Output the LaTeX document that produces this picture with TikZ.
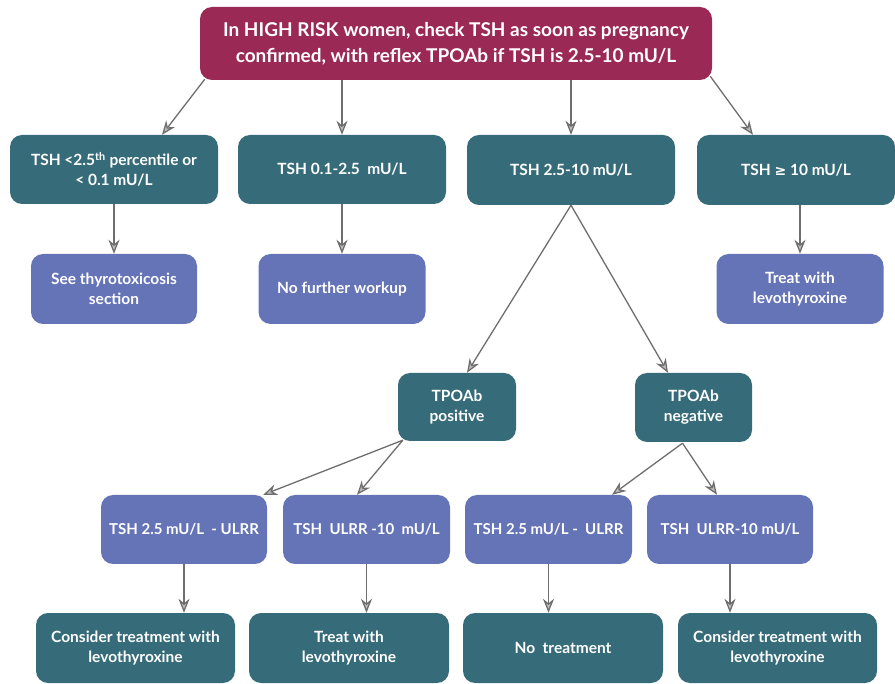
\documentclass[tikz,border=0pt]{standalone}
\usepackage{fontspec}
\setmainfont{Lato}
\newfontfamily\symfont{DejaVu Sans}
\usetikzlibrary{arrows.meta,calc}
\definecolor{crim}{HTML}{9B2955}
\definecolor{teal}{HTML}{366B79}
\definecolor{lav}{HTML}{6573B7}
\definecolor{arr}{HTML}{6E6E6E}
\tikzset{
  box/.style={rounded corners=12pt, text=white, align=center, inner sep=2pt,
    font=\fontsize{15.5}{20}\selectfont\bfseries},
  tealbox/.style={box, fill=teal},
  lavbox/.style={box, fill=lav},
  conn/.style={draw=arr, line width=1.3pt, -{Stealth[length=14pt,width=11pt,fill=arr!45]}}
}
\begin{document}
\begin{tikzpicture}[x=1pt,y=-1pt]
\useasboundingbox (0,0) rectangle (895,684);
\node[box, fill=crim, minimum width=512pt, minimum height=73pt,
  font=\fontsize{19}{26}\selectfont\bfseries] (top) at (456,43.5)
  {In HIGH RISK women, check TSH as soon as pregnancy\\confirmed, with reflex TPOAb if TSH is 2.5-10 mU/L};
% row 1
\node[tealbox, minimum width=208pt, minimum height=69pt] (a) at (114,169.5) {TSH <2.5\textsuperscript{th} percentile or\\< 0.1 mU/L};
\node[tealbox, minimum width=208pt, minimum height=69pt] (b) at (342,169.5) {TSH 0.1-2.5 \ mU/L};
\node[tealbox, minimum width=208pt, minimum height=70pt] (c) at (571,170) {TSH 2.5-10 mU/L};
\node[tealbox, minimum width=198pt, minimum height=70pt] (d) at (796,170) {TSH {\symfont\fontsize{14}{20}\selectfont ≥} 10 mU/L};
% row 2
\node[lavbox, minimum width=166pt, minimum height=70pt] (a2) at (114,289) {See thyrotoxicosis\\section};
\node[lavbox, minimum width=167pt, minimum height=70pt] (b2) at (342,289) {No further workup};
\node[lavbox, minimum width=167pt, minimum height=70pt] (d2) at (800,289) {Treat with\\levothyroxine};
% TPOAb
\node[tealbox, minimum width=118pt, minimum height=68pt] (p) at (457,407) {TPOAb\\positive};
\node[tealbox, minimum width=117pt, minimum height=69pt] (n) at (693.5,407.5) {TPOAb\\negative};
% row 4
\node[lavbox, minimum width=166pt, minimum height=69pt, font=\fontsize{15}{20}\selectfont\bfseries] (e1) at (184,529.5) {TSH 2.5 mU/L \ - ULRR};
\node[lavbox, minimum width=167pt, minimum height=69pt, font=\fontsize{15}{20}\selectfont\bfseries] (e2) at (366.5,529.5) {TSH \ ULRR -10 \ mU/L};
\node[lavbox, minimum width=167pt, minimum height=69pt, font=\fontsize{15}{20}\selectfont\bfseries] (e3) at (548.5,529.5) {TSH 2.5 mU/L - \ ULRR};
\node[lavbox, minimum width=166pt, minimum height=69pt, font=\fontsize{15}{20}\selectfont\bfseries] (e4) at (730,529.5) {TSH \ ULRR-10 mU/L};
% row 5
\node[tealbox, minimum width=199pt, minimum height=70pt] (f1) at (135.5,648) {Consider treatment with\\levothyroxine};
\node[tealbox, minimum width=200pt, minimum height=70pt] (f2) at (349,648) {Treat with\\levothyroxine};
\node[tealbox, minimum width=200pt, minimum height=70pt] (f3) at (563,648) {No \ treatment};
\node[tealbox, minimum width=199pt, minimum height=70pt] (f4) at (777.5,648) {Consider treatment with\\levothyroxine};
% connectors
\draw[conn] ([xshift=5pt,yshift=1pt]top.south west) -- ([xshift=48pt]a.north);
\draw[conn] (top.south -| b.north) -- (b.north);
\draw[conn] (top.south -| c.north) -- (c.north);
\draw[conn] ([xshift=-2pt,yshift=4pt]top.south east) -- ([xshift=-43pt]d.north);
\draw[conn] (a.south) -- (a2.north);
\draw[conn] (b.south) -- (b2.north);
\draw[conn] (d.south -| d2.north) -- (d2.north);
\draw[conn] (c.south) -- ([xshift=10pt]p.north);
\draw[conn] (c.south) -- ([xshift=-25.5pt]n.north);
\draw[conn] ([xshift=5pt,yshift=1pt]p.south west) -- ([xshift=-4pt]e1.north east);
\draw[conn] ([xshift=5pt,yshift=1pt]p.south west) -- ([xshift=-9.5pt]e2.north);
\draw[conn] ([xshift=-11pt,yshift=-1pt]n.south) -- ([xshift=63.5pt]e3.north);
\draw[conn] ([xshift=-11pt,yshift=-1pt]n.south) -- ([xshift=-13pt]e4.north);
\draw[conn] (e1.south) -- (e1.south |- f1.north);
\draw[conn] (e2.south) -- (e2.south |- f2.north);
\draw[conn] (e3.south) -- (e3.south |- f3.north);
\draw[conn] (e4.south) -- (e4.south |- f4.north);
\end{tikzpicture}
\end{document}
